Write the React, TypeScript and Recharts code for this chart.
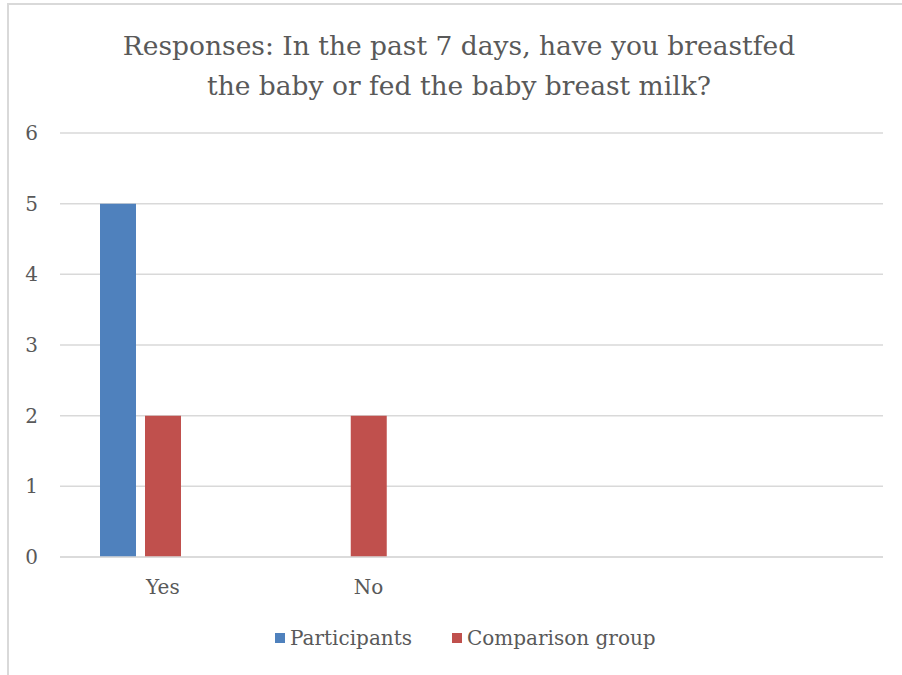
import React from "react";
import { BarChart, Bar, XAxis, YAxis, CartesianGrid } from "recharts";

const categories = ["Yes", "No", "", ""];
const participants = [5, 0, null, null];
const comparisonGroup = [2, 2, null, null];
const emptySeries = [null, null, null, null];
const yTicks = [0, 1, 2, 3, 4, 5, 6];

const titleLines = [
  "Responses: In the past 7 days, have you breastfed",
  "the baby or fed the baby breast milk?",
];

const BLUE = "#4F81BD";
const RED = "#C0504D";
const TEXT = "#595959";
const GRID = "#D9D9D9";
const FONT = "'DejaVu Serif', 'Liberation Serif', serif";

const data = categories.map((cat, i) => ({
  cat,
  participants: participants[i],
  comparison: comparisonGroup[i],
  empty: emptySeries[i],
}));

export default function App() {
  return (
    <div
      style={{
        position: "fixed",
        inset: 0,
        overflow: "hidden",
        background: "#fff",
        fontFamily: FONT,
      }}
    >
      {/* chart frame, only left and top edges visible */}
      <div
        style={{
          position: "absolute",
          left: 7,
          top: 3,
          width: 1000,
          height: 800,
          border: `2px solid ${GRID}`,
        }}
      />

      <div
        style={{
          position: "absolute",
          left: 8,
          top: 26,
          width: 902,
          textAlign: "center",
          color: TEXT,
          fontSize: 26.5,
          lineHeight: "40px",
        }}
      >
        {titleLines.map((l) => (
          <div key={l}>{l}</div>
        ))}
      </div>

      <div style={{ position: "absolute", left: 0, top: 0 }}>
        <BarChart
          width={902}
          height={675}
          data={data}
          margin={{ top: 133, right: 19, bottom: 88, left: 0 }}
          barSize={36}
          barGap={9}
        >
          <CartesianGrid vertical={false} stroke={GRID} strokeWidth={1.5} />
          <XAxis
            dataKey="cat"
            axisLine={{ stroke: GRID, strokeWidth: 1.5 }}
            tickLine={false}
            tickMargin={17}
            height={30}
            tick={{ fill: TEXT, fontSize: 20, fontFamily: FONT }}
          />
          <YAxis
            domain={[0, 6]}
            ticks={yTicks}
            width={60}
            axisLine={false}
            tickLine={false}
            tickMargin={16}
            tick={{ fill: TEXT, fontSize: 20, fontFamily: FONT }}
          />
          <Bar dataKey="participants" fill={BLUE} isAnimationActive={false} />
          <Bar dataKey="comparison" fill={RED} isAnimationActive={false} />
          <Bar dataKey="empty" fill="#9BBB59" legendType="none" isAnimationActive={false} />
        </BarChart>
      </div>

      {/* legend */}
      <div
        style={{
          position: "absolute",
          left: 275,
          top: 625,
          display: "flex",
          alignItems: "center",
          color: TEXT,
          fontSize: 20,
          lineHeight: "26px",
        }}
      >
        <span style={{ width: 10, height: 10, background: BLUE, marginRight: 5 }} />
        <span style={{ marginRight: 40 }}>Participants</span>
        <span style={{ width: 10, height: 10, background: RED, marginRight: 5 }} />
        <span>Comparison group</span>
      </div>
    </div>
  );
}
